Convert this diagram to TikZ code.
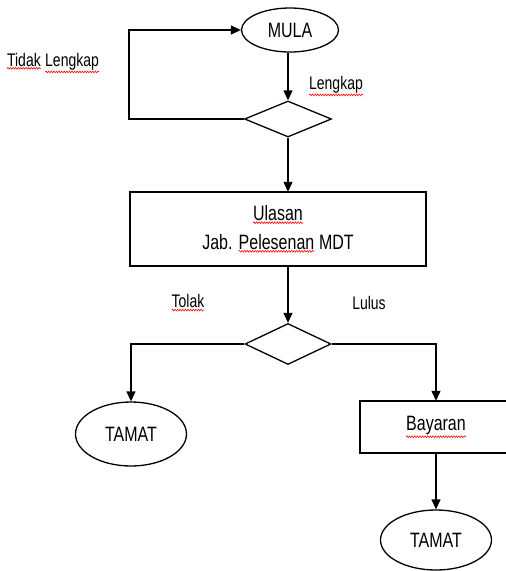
\documentclass[tikz,border=0pt]{standalone}
\usepackage{fontspec}
\setmainfont{Liberation Sans}
\usepackage{graphicx}
\usetikzlibrary{shapes.geometric,arrows.meta,decorations.pathmorphing}
\newcommand\sq[1]{\tikz[baseline=(sqw.base)]{\node[rectangle,draw=none,minimum width=0pt,minimum height=0pt,
  inner sep=0pt,outer sep=0pt,anchor=center] (sqw) {#1};
  \draw[red,line width=0.5pt,decorate,decoration={snake,amplitude=0.7pt,segment length=2.6pt}]
  ([yshift=-1.6pt]sqw.south west) -- ([yshift=-1.6pt]sqw.south east);}}
\newcommand\tx[1]{\scalebox{1}[1.3]{#1}}
\begin{document}
\begin{tikzpicture}[x=1pt,y=-1pt,line width=1.3pt,
  arr/.style={-{Triangle[length=10pt,width=9pt]}},
  term/.style={ellipse,draw,inner sep=0pt,font=\fontsize{16}{20}\selectfont},
  proc/.style={rectangle,draw,inner sep=0pt,font=\fontsize{16}{22}\selectfont},
  dec/.style={diamond,draw,inner sep=0pt},
  lab/.style={inner sep=0pt,font=\fontsize{14}{16}\selectfont}]
\useasboundingbox (0,0) rectangle (506,571);
\clip (0,0) rectangle (506,571);
\node[term,minimum width=97pt,minimum height=44pt] (mula) at (290,30) {\tx{MULA}};
\node[dec,minimum width=87pt,minimum height=36pt] (d1) at (288,119) {};
\node[proc,minimum width=296pt,minimum height=74pt] (ul) at (278,229)
  {\tx{\begin{tabular}{@{}c@{}}\sq{Ulasan}\\Jab. \sq{Pelesenan} MDT\end{tabular}}};
\node[dec,minimum width=86pt,minimum height=41pt] (d2) at (288,344) {};
\node[term,minimum width=111pt,minimum height=64pt] (t1) at (131,434) {\tx{TAMAT}};
\node[proc,minimum width=152pt,minimum height=52pt] (by) at (436,427) {\tx{\sq{Bayaran}}};
\node[term,minimum width=111pt,minimum height=60pt] (t2) at (436,540) {\tx{TAMAT}};
\node[lab] (ltl) at (53,63) {\tx{\sq{Tidak} \sq{Lengkap}}};
\node[lab] (ll) at (336,86) {\tx{\sq{Lengkap}}};
\node[lab] (lt) at (188,303) {\tx{\sq{Tolak}}};
\node[lab] (lu) at (369,303) {\tx{Lulus}};
\coordinate (lp) at (129,119);
\draw[arr] (d1.west) -- (lp) |- (mula.west);
\draw[arr] (mula.south -| d1.north) -- (d1.north);
\draw[arr] (d1.south) -- (d1.south |- ul.north);
\draw[arr] (d2.north |- ul.south) -- (d2.north);
\draw[arr] (d2.west) -| (t1.north);
\draw[arr] (d2.east) -| (by.north);
\draw[arr] (by.south) -- (by.south |- t2.north);
\end{tikzpicture}
\end{document}
